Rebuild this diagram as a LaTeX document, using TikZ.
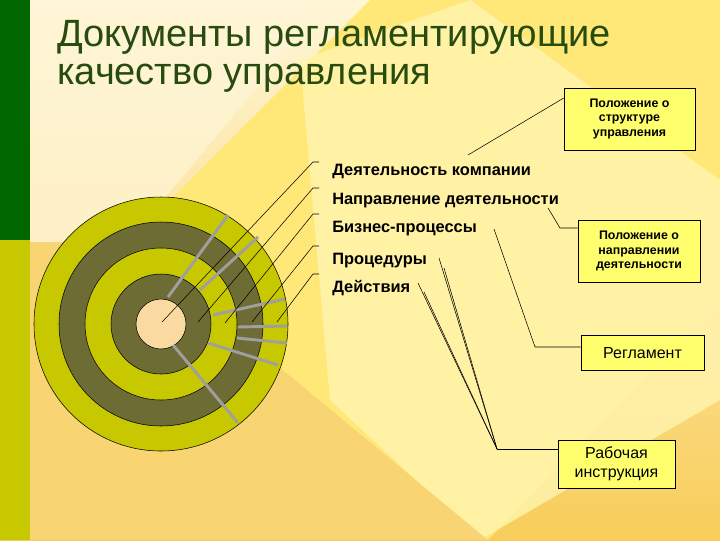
\documentclass[tikz,border=0pt]{standalone}
\usepackage{fontspec}
\setmainfont{Liberation Sans}
\begin{document}
\begin{tikzpicture}[x=0.75pt,y=-0.75pt,
  lbl/.style={anchor=base west,font=\fontsize{12.3}{14}\selectfont\bfseries,inner sep=0},
  doc/.style={draw=black,fill=docy,align=center,inner sep=1pt},
  gl/.style={draw=gray!75,line width=2.2pt},
  bl/.style={draw=black,line width=0.4pt}]
\definecolor{ring}{RGB}{200,200,0}
\definecolor{olive}{RGB}{108,108,52}
\definecolor{peach}{RGB}{250,218,160}
\definecolor{ttl}{RGB}{40,75,15}
\definecolor{docy}{RGB}{255,255,110}
\definecolor{bgtop}{RGB}{255,246,215}
\definecolor{bgbot}{RGB}{248,205,90}
\definecolor{dia}{RGB}{255,232,120}
\definecolor{dial}{RGB}{255,245,175}
\useasboundingbox (0,0) rectangle (720,540);
% background
\shade[top color=bgtop, bottom color=bgbot] (0,0) rectangle (720,540);
\fill[dia] (128,242) -- (370,0) -- (720,0) -- (720,300) -- (488,540) -- cycle;
\fill[dial,opacity=0.8] (300,60) -- (470,0) -- (720,180) -- (720,400) -- (480,540) -- (330,400)--cycle;
\fill[bgbot!85!white] (128,242) -- (488,540) -- (30,540) -- (30,242) -- cycle;
\fill[bgtop,opacity=0.7] (30,0) -- (330,0) -- (128,242) -- (30,242) -- cycle;
\fill[green!40!black] (0,0) rectangle (30,240);
\fill[ring] (0,240) rectangle (30,540);
% title
\node[anchor=base west,inner sep=0,text=ttl,font=\fontsize{28.5}{30}\selectfont] (t1) at (57,46) {Документы регламентирующие};
\node[anchor=base west,inner sep=0,text=ttl,font=\fontsize{28.5}{30}\selectfont] (t2) at (57,84) {качество управления};
% rings
\coordinate (c) at (161,324);
\filldraw[fill=ring,draw=black,line width=0.4pt] (c) circle[radius=127];
\filldraw[fill=olive,draw=black,line width=0.4pt] (c) circle[radius=102];
\filldraw[fill=ring,draw=black,line width=0.4pt] (c) circle[radius=76];
\filldraw[fill=olive,draw=black,line width=0.4pt] (c) circle[radius=50];
\filldraw[fill=peach,draw=black,line width=0.4pt] (c) circle[radius=25];
% grey lines
\draw[gl] (168,297) -- (228,215);
\draw[gl] (200,290) -- (258,237);
\draw[gl] (213,315) -- (285,299);
\draw[gl] (238,327) -- (287,326);
\draw[gl] (237,338) -- (287,343);
\draw[gl] (208,343) -- (278,365);
\draw[gl] (173,345) -- (238,423);
% labels
\node[lbl] (l1) at (332,175) {Деятельность компании};
\node[lbl] (l2) at (332,204) {Направление деятельности};
\node[lbl] (l3) at (332,232) {Бизнес-процессы};
\node[lbl] (l4) at (332,264) {Процедуры};
\node[lbl] (l5) at (332,292) {Действия};
\coordinate (p1) at (162,322); \coordinate (q1) at (313,162);
\coordinate (p2) at (198,322); \coordinate (q2) at (313,188);
\coordinate (p3) at (225,323); \coordinate (q3) at (313,214);
\coordinate (p4) at (252,322); \coordinate (q4) at (313,246);
\coordinate (p5) at (277,322); \coordinate (q5) at (313,274);
\foreach \i in {1,...,5}{\draw[bl] (p\i) -- (q\i) -- ++(6,0);}
% boxes
\node[doc,minimum width=131*0.75pt,minimum height=62*0.75pt,font=\fontsize{9.3}{11}\selectfont\bfseries] (b1) at (629.5,119) {Положение о\\структуре\\управления};
\node[doc,minimum width=122*0.75pt,minimum height=62*0.75pt,font=\fontsize{9.3}{11}\selectfont\bfseries] (b2) at (639,251) {Положение о\\направлении\\деятельности};
\node[doc,minimum width=123*0.75pt,minimum height=35*0.75pt,font=\fontsize{12}{14}\selectfont] (b3) at (642.5,353) {Регламент};
\node[doc,minimum width=117*0.75pt,minimum height=48*0.75pt,font=\fontsize{12}{14}\selectfont] (b4) at (616.5,464) {Рабочая\\инструкция};
% connectors
\coordinate (s1) at (468,155);
\draw[bl] (s1) -- (b1.west|-{(0,98)});
\coordinate (s2) at (548,208); \coordinate (k2) at (560,228);
\draw[bl] (s2) -- (k2) -- (k2-|b2.west);
\coordinate (s3) at (494,229); \coordinate (k3) at (535,347);
\draw[bl] (s3) -- (k3) -- (k3-|b3.west);
\coordinate (k4) at (497,449);
\draw[bl] (439,258) -- (k4);
\draw[bl] (444,268) -- (k4);
\draw[bl] (418,283) -- (k4);
\draw[bl] (424,292) -- (k4);
\draw[bl] (k4) -- (k4-|b4.west);
\end{tikzpicture}
\end{document}
